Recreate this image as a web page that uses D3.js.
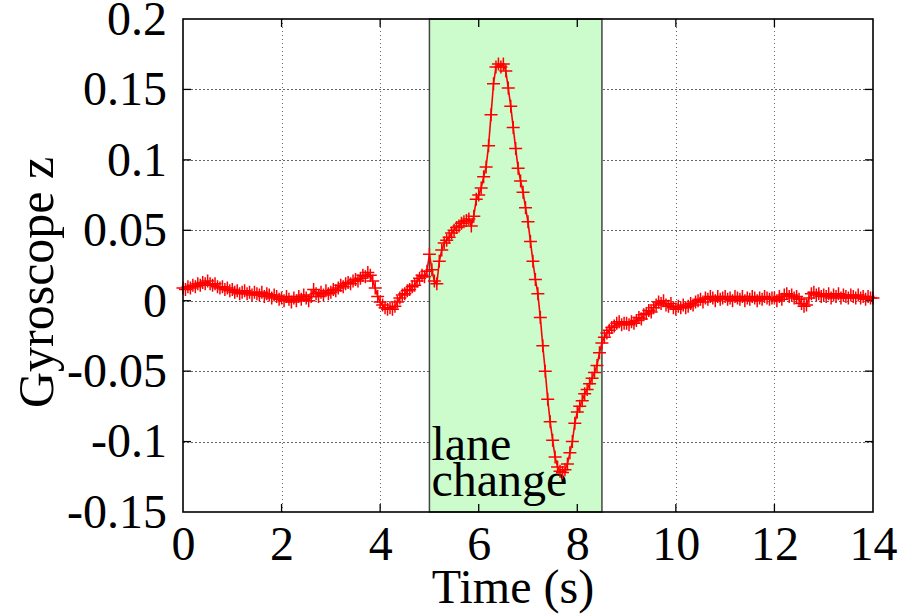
<!DOCTYPE html>
<meta charset="utf-8">
<title>Gyroscope z - lane change</title>
<style>
body { margin: 0; background: #fff; }
svg { font-family: "Liberation Serif", "Times New Roman", serif; }
.tick-label text { font-size: 48px; fill: #000; }
.grid line { stroke: #666; stroke-width: 1px; stroke-dasharray: 1.5,2.5; shape-rendering: crispEdges; }
.frame { fill: none; stroke: #000; stroke-width: 1.6px; }
.mark line { stroke: #000; stroke-width: 1.3px; }
.series path.trace { fill: none; stroke: #ff0000; stroke-width: 1.6px; }
.series path.plus { fill: none; stroke: #ff0000; stroke-width: 1.5px; }
</style>
<body>
<script src="https://cdn.jsdelivr.net/npm/d3@7"></script>
<script>

// sample spacing of the gyro log (s)
var sampleStep = 0.05;

// gyroscope z readings, one row per second
var gyroZ = [
  0.009, 0.008, 0.010, 0.009, 0.011, 0.010, 0.012, 0.011, 0.013, 0.012, 0.014, 0.012, 0.011, 0.012, 0.010, 0.009, 0.010, 0.008, 0.009, 0.007,
  0.008, 0.006, 0.007, 0.005, 0.006, 0.007, 0.005, 0.006, 0.004, 0.006, 0.005, 0.004, 0.006, 0.003, 0.005, 0.004, 0.002, 0.004, 0.003, 0.001,
  0.002, 0.000, 0.003, 0.001, -0.001, 0.002, 0.000, 0.003, 0.001, 0.004, 0.002, 0.000, 0.003, 0.008, 0.005, 0.003, 0.006, 0.004, 0.007, 0.005,
  0.006, 0.008, 0.007, 0.009, 0.011, 0.010, 0.012, 0.013, 0.012, 0.014, 0.015, 0.014, 0.016, 0.018, 0.017, 0.020, 0.018, 0.014, 0.009, 0.003,
  -0.001, -0.003, -0.005, -0.006, -0.005, -0.006, -0.004, -0.001, 0.002, 0.004, 0.005, 0.007, 0.008, 0.010, 0.011, 0.014, 0.016, 0.018, 0.017, 0.021,
  0.033, 0.022, 0.014, 0.012, 0.028, 0.036, 0.041, 0.043, 0.045, 0.048, 0.050, 0.052, 0.053, 0.055, 0.056, 0.057, 0.058, 0.053, 0.060, 0.072,
  0.075, 0.080, 0.088, 0.095, 0.110, 0.132, 0.154, 0.166, 0.168, 0.166, 0.168, 0.163, 0.151, 0.138, 0.123, 0.108, 0.094, 0.085, 0.077, 0.066,
  0.056, 0.042, 0.028, 0.015, 0.005, -0.012, -0.032, -0.050, -0.070, -0.086, -0.099, -0.111, -0.118, -0.121, -0.122, -0.120, -0.116, -0.108, -0.100, -0.087,
  -0.079, -0.075, -0.071, -0.066, -0.063, -0.059, -0.055, -0.051, -0.046, -0.037, -0.030, -0.026, -0.023, -0.021, -0.019, -0.018, -0.016, -0.015, -0.017, -0.016,
  -0.016, -0.017, -0.015, -0.016, -0.014, -0.012, -0.013, -0.010, -0.009, -0.007, -0.008, -0.005, -0.003, -0.001, -0.002, 0.000, -0.003, -0.004, -0.002, -0.005,
  -0.006, -0.004, -0.005, -0.003, -0.005, -0.004, -0.002, -0.003, -0.001, 0.000, 0.001, -0.001, 0.002, 0.001, 0.003, 0.002, 0.000, 0.003, 0.001, 0.002,
  0.003, 0.001, 0.002, 0.000, 0.003, 0.002, 0.001, 0.003, 0.000, 0.002, 0.001, 0.003, 0.002, 0.000, 0.002, 0.001, 0.003, 0.002, 0.001, 0.002,
  0.002, 0.000, 0.003, 0.001, 0.004, 0.005, 0.003, 0.004, 0.002, 0.003, 0.001, -0.002, -0.004, -0.003, 0.002, 0.005, 0.006, 0.004, 0.005, 0.003,
  0.004, 0.003, 0.005, 0.002, 0.004, 0.003, 0.005, 0.002, 0.004, 0.003, 0.002, 0.004, 0.003, 0.002, 0.004, 0.002, 0.003, 0.001, 0.003, 0.002, 0.002
];

var laneChange = [5, 8.5];
var laneLabel = ["lane", "change"];

var xTicks = [0, 2, 4, 6, 8, 10, 12, 14];
var yTicks = [-0.15, -0.1, -0.05, 0, 0.05, 0.1, 0.15, 0.2];
var yTickLabels = ["-0.15", "-0.1", "-0.05", "0", "0.05", "0.1", "0.15", "0.2"];

var margin = {top: 19, right: 45, bottom: 103, left: 183},
    width = 918 - margin.left - margin.right,
    height = 615 - margin.top - margin.bottom;

var x = d3.scaleLinear().domain([0, 14]).range([0, width]);
var y = d3.scaleLinear().domain([-0.15, 0.2]).range([height, 0]);

var data = gyroZ.map(function(v, i) { return {t: i * sampleStep, v: v}; });

var svg = d3.select("body").append("svg")
    .attr("width", 918)
    .attr("height", 615)
  .append("g")
    .attr("transform", "translate(" + margin.left + "," + margin.top + ")");

// grid
svg.append("g")
    .attr("class", "grid")
    .attr("transform", "translate(0," + height + ")")
    .call(d3.axisBottom(x).tickValues(xTicks.slice(1, -1)).tickSize(-height).tickFormat(""))
    .call(function(g) { g.select(".domain").remove(); });

svg.append("g")
    .attr("class", "grid")
    .call(d3.axisLeft(y).tickValues(yTicks.slice(1, -1)).tickSize(-width).tickFormat(""))
    .call(function(g) { g.select(".domain").remove(); });

// lane change band
svg.append("rect")
    .attr("x", x(laneChange[0]))
    .attr("y", 0)
    .attr("width", x(laneChange[1]) - x(laneChange[0]))
    .attr("height", height)
    .attr("fill", "#ccfccc")
    .attr("stroke", "#444")
    .attr("stroke-width", 1.5);

svg.append("text")
    .attr("x", x(laneChange[0]) + 2)
    .attr("y", y(-0.113))
    .attr("font-size", 48)
    .selectAll("tspan")
    .data(laneLabel)
  .enter().append("tspan")
    .attr("x", x(laneChange[0]) + 2)
    .attr("dy", function(d, i) { return i ? 36 : 0; })
    .text(function(d) { return d; });

// tick marks on all four sides (inward)
var marks = svg.append("g").attr("class", "mark");
xTicks.slice(1, -1).forEach(function(t) {
  marks.append("line").attr("x1", x(t)).attr("x2", x(t)).attr("y1", height).attr("y2", height - 8);
  marks.append("line").attr("x1", x(t)).attr("x2", x(t)).attr("y1", 0).attr("y2", 8);
});
yTicks.slice(1, -1).forEach(function(t) {
  marks.append("line").attr("x1", 0).attr("x2", 8).attr("y1", y(t)).attr("y2", y(t));
  marks.append("line").attr("x1", width).attr("x2", width - 8).attr("y1", y(t)).attr("y2", y(t));
});

// series
var series = svg.append("g").attr("class", "series");

series.append("path")
    .attr("class", "trace")
    .datum(data)
    .attr("d", d3.line().x(function(d) { return x(d.t); }).y(function(d) { return y(d.v); }));

series.selectAll(".plus")
    .data(data)
  .enter().append("path")
    .attr("class", "plus")
    .attr("transform", function(d) { return "translate(" + x(d.t) + "," + y(d.v) + ")"; })
    .attr("d", "M-6.5,0H6.5M0,-6.5V6.5");

svg.append("rect")
    .attr("class", "frame")
    .attr("width", width)
    .attr("height", height);

// tick labels
svg.append("g")
    .attr("class", "tick-label")
    .attr("transform", "translate(0," + height + ")")
    .call(d3.axisBottom(x).tickValues(xTicks).tickSize(0).tickPadding(14).tickFormat(d3.format("d")))
    .call(function(g) { g.select(".domain").remove(); });

svg.append("g")
    .attr("class", "tick-label")
    .call(d3.axisLeft(y).tickValues(yTicks).tickSize(0).tickPadding(16)
      .tickFormat(function(d, i) { return yTickLabels[i]; }))
    .call(function(g) { g.select(".domain").remove(); });

svg.selectAll(".tick-label").attr("font-family", null).attr("font-size", null);

// axis titles
svg.append("text")
    .attr("x", 330)
    .attr("y", height + 91)
    .attr("text-anchor", "middle")
    .attr("font-size", 48)
    .text("Time (s)");

svg.append("text")
    .attr("transform", "translate(-130," + y(0.013) + ") rotate(-90)")
    .attr("text-anchor", "middle")
    .attr("font-size", 50)
    .text("Gyroscope z");

</script>
